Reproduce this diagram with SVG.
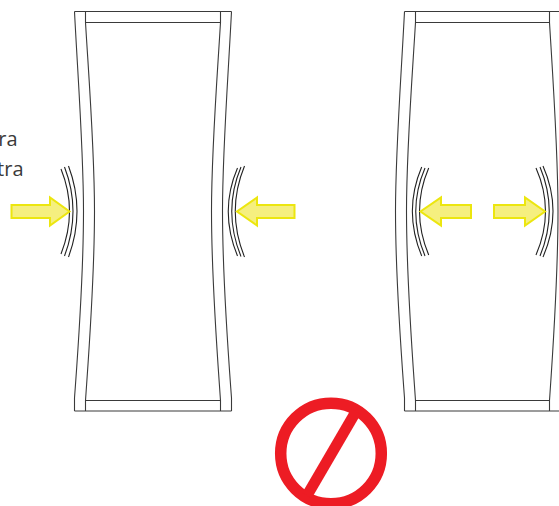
<svg xmlns="http://www.w3.org/2000/svg" width="559" height="506" viewBox="0 0 559 506">
<style>
.l{fill:none;stroke:#3a3a3a;stroke-width:1.1}
.a{fill:none;stroke:#222;stroke-width:1.1}
.y{fill:#f5ef7f;stroke:#ece60f;stroke-width:2}
.t{font-family:"Open Sans",sans-serif;font-size:20px;fill:#3a3a3a;text-anchor:end}
.r{fill:none;stroke:#ed1c24}
</style>
<rect width="559" height="506" fill="#fff"/>
<g id="label"><text class="t" x="17.500" y="146">ra</text><text class="t" x="23.500" y="175.500">tra</text></g>
<g id="panel-left">
<path class="l" d="M74.500 11.500H231.500M85.500 11.500V22.500H220.500V11.500M85.500 411V400.500H220.500V411M74.500 411H231.500"/>
<path class="l" d="M74.500 11.500C78 80 83.500 150 83.500 211C83.500 280 78 350 74.500 398V411"/>
<path class="l" d="M85.500 22.500C89 80 94.500 150 94.500 211C94.500 280 89 350 85.500 400.500"/>
<path class="l" d="M231.500 11.500C228 80 222.500 150 222.500 211C222.500 280 228 350 231.500 398V411"/>
<path class="l" d="M220.500 22.500C217 80 211.500 150 211.500 211C211.500 280 217 350 220.500 400.500"/>
</g>
<g id="panel-right">
<path class="l" d="M404.500 11.500H559M415.500 11.500V22.500H549.500V11.500M415.500 411V400.500H549.500V411M404.500 411H559"/>
<path class="l" d="M404.500 11.500C401 80 395.500 150 395.500 211C395.500 280 401 350 404.500 398V411"/>
<path class="l" d="M415.500 22.500C412 80 406.500 150 406.500 211C406.500 280 412 350 415.500 400.500"/>
<path class="l" d="M549.500 22.500C553 80 558 150 558 211C558 280 553 350 549.500 400.500"/>
</g>
<g id="connectors">
<path class="a" d="M61 169Q78 211 61 254M64.500 167Q81.500 211 64.500 256M68.500 166Q85.500 211 68.500 257"/>
<path class="a" d="M237.500 168Q219 211 237.500 256M241 167Q222.500 211 241 256.500M244.500 166Q226 211 244.500 257"/>
<path class="a" d="M421.700 167Q403 211 421.700 256M425 168Q406.500 211 425 256M428.700 168Q410.300 211 428.700 255"/>
<path class="a" d="M536 168Q555 211 536 255M540 167Q558.500 211 540 256M543 166Q563 211 543 257"/>
<path class="y" d="M11.500 205H50V197.500L69.500 211.500L50 225.500V218H11.500Z"/>
<path class="y" d="M294.500 205H257V197.500L237 211.500L257 225.500V218H294.500Z"/>
<path class="y" d="M471 205H441V197.500L420.500 211.500L441 225.500V218H471Z"/>
<path class="y" d="M494 205H525V197.500L545 211.500L525 225.500V218H494Z"/>
</g>
<g id="prohibited">
<circle class="r" cx="331" cy="453.500" r="50.300" stroke-width="11.500"/>
<path class="r" d="M356 411.500L307 495.500" stroke-width="11"/>
</g>
</svg>
